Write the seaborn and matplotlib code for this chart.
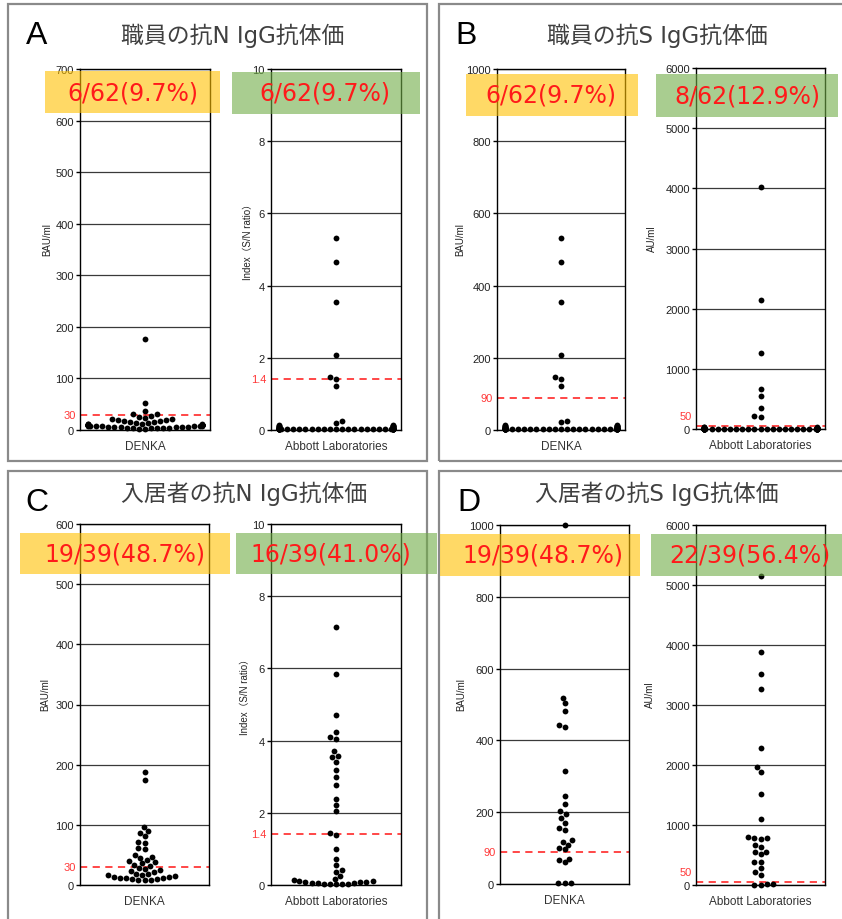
import pandas as pd
import matplotlib.pyplot as plt
import seaborn as sns
from matplotlib.patches import Rectangle
from matplotlib.transforms import blended_transform_factory

# values
staff_n_denka = [177, 53, 37, 31, 31,
                 2, 2, 3, 3, 3, 4, 4, 4, 5, 5, 5, 6, 6, 6, 7, 7, 7, 8, 8, 8,
                 8, 9, 9, 9, 9, 9, 10, 10, 10, 10, 10, 10, 10, 10, 10, 10, 10,
                 10, 10, 10, 11, 11, 12, 12, 13, 14, 15, 16, 17, 18, 19, 20,
                 21, 22, 24, 26, 28]
staff_n_abbott = [5.32, 4.66, 3.55, 2.08, 1.46, 1.42, 1.23,
                  0.02, 0.02, 0.02, 0.02, 0.02, 0.02, 0.02, 0.02, 0.02, 0.02,
                  0.02, 0.02, 0.02, 0.02, 0.02, 0.02, 0.02, 0.02, 0.02, 0.02,
                  0.03, 0.03, 0.03, 0.03, 0.03, 0.03, 0.03, 0.03, 0.03, 0.03,
                  0.04, 0.04, 0.04, 0.04, 0.04, 0.05, 0.05, 0.05, 0.05,
                  0.06, 0.06, 0.06, 0.07, 0.08, 0.08, 0.08, 0.10, 0.10, 0.10,
                  0.12, 0.12, 0.15, 0.15, 0.20, 0.25]
staff_s_denka = [532, 466, 355, 208, 146, 142, 123,
                 2, 2, 2, 2, 2, 2, 2, 2, 2, 2, 2, 2, 2, 2, 2, 2, 2, 2, 2, 2,
                 3, 3, 3, 3, 3, 3, 3, 3, 3, 3, 4, 4, 4, 4, 4, 5, 5, 5, 5,
                 6, 6, 6, 7, 8, 8, 8, 10, 10, 10, 12, 12, 15, 15, 21, 26]
staff_s_abbott = [4022, 2150, 1261, 667, 556, 344, 222, 205,
                  0, 0, 0, 0, 1, 1, 1, 1, 1, 1, 2, 2, 2, 2, 2, 2, 3, 3, 3,
                  3, 3, 4, 4, 4, 4, 5, 5, 5, 5, 6, 6, 6, 7, 7, 7, 8, 8, 8,
                  9, 9, 10, 10, 11, 12, 13, 14, 15, 16, 18, 20, 22, 25, 28, 30]
resident_n_denka = [188, 174, 96, 89, 87, 81, 71, 70, 61, 60, 50, 47, 45, 42,
                    40, 38, 36, 34, 32,
                    28, 27, 25, 23, 21, 19, 18, 17, 16, 15, 14, 13, 12, 11,
                    11, 10, 10, 9, 9, 8]
resident_n_abbott = [7.14, 5.85, 4.71, 4.25, 4.11, 4.04, 3.70, 3.58, 3.54,
                     3.42, 3.19, 2.98, 2.76, 2.39, 2.22, 2.05, 1.45,
                     1.38, 1.01, 0.73, 0.55, 0.42, 0.37,
                     0.26, 0.18, 0.15, 0.12, 0.10, 0.09, 0.08, 0.07, 0.06,
                     0.05, 0.05, 0.04, 0.04, 0.03, 0.03, 0.02]
resident_s_denka = [1000, 519, 503, 481, 443, 437, 316, 245, 224, 203, 196,
                    184, 170, 156, 151, 123, 118, 110, 101, 97, 71, 66, 61,
                    2, 3, 3]
resident_s_abbott = [5144, 3889, 3517, 3267, 2278, 1961, 1878, 1517, 1100,
                     794, 783, 778, 767, 667, 628, 556, 544, 517, 389, 389,
                     278, 211, 167, 5, 8, 10, 12]

kits = ['DENKA', 'Abbott Laboratories']
cutoffs = [30, 1.4, 90, 50, 30, 1.4, 90, 50]
ymaxes = [700, 10, 1000, 6000, 600, 10, 1000, 6000]
ysteps = [100, 2, 200, 1000, 100, 2, 200, 1000]
ylabels = ['BAU/ml', 'Index（S/N ratio）', 'BAU/ml', 'AU/ml',
           'BAU/ml', 'Index（S/N ratio）', 'BAU/ml', 'AU/ml']
rates = ['6/62(9.7%)', '6/62(9.7%)', '6/62(9.7%)', '8/62(12.9%)',
         '19/39(48.7%)', '16/39(41.0%)', '19/39(48.7%)', '22/39(56.4%)']
panel_letters = ['A', 'B', 'C', 'D']
panel_titles = ['職員の抗N IgG抗体価', '職員の抗S IgG抗体価',
                '入居者の抗N IgG抗体価', '入居者の抗S IgG抗体価']

series = [staff_n_denka, staff_n_abbott, staff_s_denka, staff_s_abbott,
          resident_n_denka, resident_n_abbott, resident_s_denka, resident_s_abbott]

W, H = 842, 920

sns.set_style('white')
plt.rcParams['font.family'] = ['Liberation Sans', 'Noto Sans CJK JP', 'DejaVu Sans']
mixed = ['DejaVu Sans', 'Noto Sans CJK JP']

fig = plt.figure(figsize=(W / 100, H / 100), dpi=100)


def frect(x0, y0, x1, y1):
    return [x0 / W, 1 - y1 / H, (x1 - x0) / W, (y1 - y0) / H]


# panel frames
for x0, y0, x1, y1 in [(8, 5, 427, 462), (439, 5, 850, 462),
                       (8, 472, 427, 930), (439, 472, 850, 930)]:
    fig.patches.append(Rectangle((x0 / W, 1 - y1 / H), (x1 - x0) / W, (y1 - y0) / H,
                                 transform=fig.transFigure, fill=False,
                                 edgecolor='#8a8a8a', lw=1.6, zorder=0))

# axes positions in pixels
boxes = [(80, 70, 210, 431), (271, 70, 401, 431), (497, 70, 625, 431), (696, 69, 825, 430),
         (80, 525, 209, 886), (271, 525, 401, 886), (500, 526, 629, 885), (696, 526, 825, 886)]
label_x = [-0.21, -0.14, -0.25, -0.30, -0.23, -0.16, -0.26, -0.32]
cut_dy = [0, 0, 0, 7, 0, 0, 0, 7]  # lift the red label off the "0" tick (points)

for i, vals in enumerate(series):
    ax = fig.add_axes(frect(*boxes[i]))
    df = pd.DataFrame({'kit': kits[i % 2], 'value': vals})
    sns.swarmplot(data=df, x='kit', y='value', ax=ax, color='black',
                  size=4.2, warn_thresh=1)
    for c in ax.collections:
        c.set_clip_on(False)
    ax.set_xlim(-0.455, 0.455)
    ax.set_ylim(0, ymaxes[i])
    ax.set_yticks(range(0, ymaxes[i] + 1, ysteps[i]))
    ax.grid(axis='y', color='#3a3a3a', lw=0.9)
    ax.set_axisbelow(True)
    for s in ax.spines.values():
        s.set_color('black')
        s.set_linewidth(1.0)
    ax.tick_params(axis='y', left=True, length=3, width=1, color='black',
                   labelsize=8, labelcolor='#222222', pad=1.5)
    ax.tick_params(axis='x', length=0, labelsize=8.5, labelcolor='#333333', pad=7)
    ax.set_xlabel('')
    ax.set_ylabel(ylabels[i], fontsize=7, color='#222222')
    ax.yaxis.set_label_coords(label_x[i], 0.53)

    # cutoff line with red label
    ax.axhline(cutoffs[i], color='#ff3838', lw=1.3, ls=(0, (4, 3)), zorder=1)
    tr = blended_transform_factory(ax.transAxes, ax.transData)
    ax.annotate(f'{cutoffs[i]:g}', xy=(-0.035, cutoffs[i]), xycoords=tr,
                xytext=(0, cut_dy[i]), textcoords='offset points',
                ha='right', va='center', color='#ff3838', fontsize=8)

# positive rate banners
banners = [(45, 72, 220, 114, 133), (232, 73, 420, 115, 325),
           (466, 75, 638, 117, 551), (656, 75, 838, 118, 747),
           (20, 534, 230, 575, 125), (236, 534, 437, 575, 331),
           (440, 535, 640, 577, 543), (651, 535, 842, 577, 750)]
fills = ['#ffc000', '#70ad47']
for i, (x0, y0, x1, y1, xc) in enumerate(banners):
    fig.patches.append(Rectangle((x0 / W, 1 - y1 / H), (x1 - x0) / W, (y1 - y0) / H,
                                 transform=fig.transFigure, facecolor=fills[i % 2],
                                 edgecolor='none', alpha=0.6, zorder=5))
    fig.text(xc / W, 1 - (y0 + y1) / 2 / H, rates[i], ha='center', va='center',
             color='#ff1a1a', fontsize=17, family=mixed, zorder=6)

# panel letters and titles
letter_pos = [(26, 44), (455, 44), (25, 511), (457, 511)]
title_pos = [(233, 36), (657, 36), (244, 494), (657, 494)]
for j in range(4):
    fig.text(letter_pos[j][0] / W, 1 - letter_pos[j][1] / H, panel_letters[j],
             ha='left', va='baseline', fontsize=23, color='black')
    fig.text(title_pos[j][0] / W, 1 - title_pos[j][1] / H, panel_titles[j],
             ha='center', va='center', fontsize=16.5, color='#404040',
             family=mixed)

fig.savefig('out.png', dpi=100)
